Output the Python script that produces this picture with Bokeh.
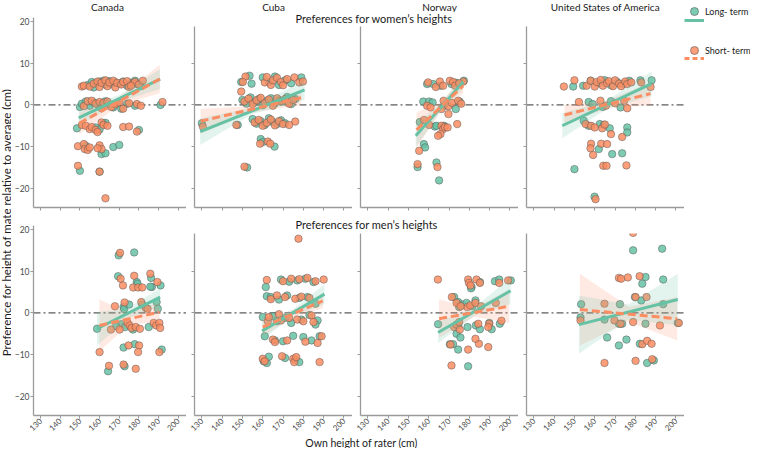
import math
from bokeh.plotting import figure
from bokeh.models import Range1d, Span, Label, Legend, LegendItem, FixedTicker
from bokeh.layouts import row, column
from bokeh.embed import file_html
from bokeh.resources import INLINE
from bokeh.core.properties import value

# ---------------- texts ----------------
COUNTRIES = ["Canada", "Cuba", "Norway", "United States of America"]
ROW_TITLES = ["Preferences for women\u2019s heights", "Preferences for men\u2019s heights"]
Y_LABEL = "Preference for height of mate relative to average (cm)"
X_LABEL = "Own height of rater (cm)"
SERIES = ["Long- term", "Short- term"]
X_TICKS = [130, 140, 150, 160, 170, 180, 190, 200]
Y_TICKS = [-20, -10, 0, 10, 20]

# ---------------- data (own height, preference) ----------------
CA_W_LONG_X = [154, 156, 158, 160, 162, 163, 165, 166, 168, 170, 172, 174, 176, 178, 179, 181, 157,
               150, 151, 153, 155, 157, 159, 161, 163, 165, 167, 169, 171, 174, 178, 191,
               148.5, 158, 160, 162, 163, 180, 153, 161, 163, 167, 170, 150, 160]
CA_W_LONG_Y = [4.8, 5.5, 5.2, 5.6, 5.8, 4.9, 5.7, 5.0, 5.4, 5.1, 5.6, 4.6, 5.3, 5.8, 5.0, 4.5, 4.2,
               -0.5, 0.3, 0.8, -0.2, 0.6, 0.2, -0.4, 0.9, 0.1, -0.6, 0.4, -0.9, 0.3, -0.2, 0.0,
               -5.6, -5.4, -5.9, -4.5, -4.3, -6.0, -9.8, -11.8, -11.6, -10.1, -9.6, -15.8, -16.0]
CA_W_SHORT_X = [151, 152, 155, 157, 159, 160, 161, 163, 164, 165, 167, 168, 169, 171, 172, 174, 175, 177, 178, 180, 182, 176,
                152, 154, 156, 158, 160, 161, 162, 164, 166, 168, 170, 172, 175, 179, 181, 192,
                151, 153, 155, 156, 158, 159, 161, 162, 164, 172, 175, 179,
                149, 152, 152.5, 154, 155, 160, 161, 159, 149, 160, 163]
CA_W_SHORT_Y = [4.4, 4.6, 4.4, 5.1, 5.6, 4.3, 5.3, 5.9, 4.5, 5.4, 5.8, 4.2, 5.3, 4.9, 5.5, 5.7, 4.3, 5.1, 5.5, 4.9, 5.8, 4.6,
                -0.3, 0.9, 1.0, 0.3, 0.7, -0.8, 0.5, 0.8, -0.5, 0.2, 0.6, -0.9, 0.4, 0.2, -0.2, 0.7,
                -4.8, -5.0, -5.8, -5.3, -6.0, -6.5, -4.2, -4.8, -5.0, -5.3, -5.2, -6.4,
                -9.9, -9.4, -10.6, -10.8, -10.2, -9.7, -10.6, -10.4, -14.6, -16.0, -22.4]

CU_W_LONG_X = [130, 147.7, 149.4, 153.5, 154.5, 160, 163, 166, 168, 171, 174, 179,
               150, 152, 154, 156, 158, 160, 162, 164, 166, 168, 170, 172, 174, 176,
               155, 157, 159, 161, 163, 165, 167, 169, 171, 159, 160, 165.8, 152.3]
CU_W_LONG_Y = [-4.4, -4.8, 5.5, 7.0, 5.1, 6.6, 5.5, 6.8, 4.8, 5.9, 5.2, 6.6,
               1.2, 0.3, 1.8, 0.6, 1.4, -0.1, 1.0, 1.6, 0.4, 1.2, 0.8, 1.9, 0.2, 1.4,
               -3.4, -4.5, -3.9, -4.8, -3.2, -4.1, -4.6, -3.7, -4.4, -8.2, -8.9, -10.0, -15.0]
CU_W_SHORT_X = [130.5, 147, 149.4, 151.5, 150.2,
                161, 162, 164, 165, 167, 169, 170, 172, 175.6, 178, 179.8,
                151, 153, 155, 157, 159, 161, 163, 165, 167, 169, 171, 173, 175,
                156, 158, 160, 162, 164, 166, 168, 170, 176, 173, 158.7, 162.5, 163.7, 151]
CU_W_SHORT_Y = [-5.2, -4.8, 3.2, 6.8, 5.5,
                5.4, 6.7, 4.8, 5.9, 6.5, 5.5, 4.7, 6.2, 6.6, 5.4, 5.6,
                0.8, 1.5, 0.2, 1.1, 1.7, 0.4, 1.3, -0.2, 1.6, 0.9, 1.4, 0.3, 1.2,
                -4.2, -3.6, -5.0, -4.3, -3.5, -4.9, -3.9, -4.6, -4.0, -4.8, -9.3, -8.8, -9.3, -14.8]

NO_W_LONG_X = [159.2, 162.2, 165.8, 171.2, 173.5, 177.3, 157.3, 160.2, 161.9, 167.6, 173.3, 175.2,
               155.6, 163.0, 167.5, 163.8, 157.6, 158.2, 154.5, 163.8, 165.1]
NO_W_LONG_Y = [5.0, 5.0, 4.6, 5.0, 5.3, 5.8, 0.8, 0.8, 0.6, -0.2, -1.0, 0.8,
               -4.1, -5.2, -5.0, -5.0, -9.4, -10.2, -14.9, -13.8, -18.1]
NO_W_SHORT_X = [159.7, 163.5, 165.5, 167.1, 170.4, 172.0, 173.0, 177.0, 175.0,
                159.2, 160.9, 166.3, 167.3, 169.7, 171.4, 174.5, 176.0,
                157.7, 160.2, 166.3, 167.1, 168.0, 169.3, 165.8, 164.6, 169.7, 174.0, 155.3, 154.5, 164.3]
NO_W_SHORT_Y = [5.4, 4.3, 5.6, 4.6, 5.8, 5.5, 4.6, 5.6, 5.2,
                -0.2, -0.6, -1.0, 1.0, -0.3, 0.5, 1.0, 0.3,
                -3.6, -4.8, -5.0, -5.8, -5.3, -5.4, -7.0, -7.4, -2.2, -4.6, -11.0, -14.2, -14.9]

US_W_LONG_X = [149.4, 154.3, 158, 162, 165, 168, 171, 174, 177, 182.5, 188,
               157.0, 159, 164, 172.7, 168,
               154.6, 157.0, 162.5, 167.4, 176.0, 176.0, 164.5, 162.0, 168.6, 173.5, 150.0, 159.9]
US_W_LONG_Y = [4.4, 4.6, 5.8, 5.2, 5.9, 4.7, 5.5, 5.0, 5.8, 5.9, 5.9,
               0.7, 0.2, -0.5, -0.6, 0.9,
               -3.8, -5.0, -4.6, -5.6, -5.4, -6.6, -4.8, -10.6, -11.8, -11.6, -15.4, -22.0]
US_W_SHORT_X = [144.8, 150.0, 156, 158, 160, 161, 163, 164, 166, 167, 169, 170, 172, 173, 175, 176, 178, 182.9, 187.5,
                152.2, 162.8, 165.5, 170, 176.0, 174.5,
                155.5, 158.2, 160, 163.7, 165, 168.0, 173.5,
                158.2, 157.9, 163.2, 159.2, 166.1, 164.2, 165.8, 175.6, 160.4]
US_W_SHORT_Y = [4.4, 5.9, 4.6, 5.8, 4.4, 5.5, 6.0, 4.6, 5.2, 5.7, 4.5, 5.9, 5.1, 4.5, 5.6, 5.0, 5.4, 5.4, 4.3,
                0.7, 1.0, -0.2, 0.4, -0.8, 1.0,
                -4.6, -5.0, -5.4, -5.6, -4.7, -7.0, -7.7,
                -9.3, -10.4, -9.3, -12.0, -9.4, -14.6, -14.6, -14.5, -22.6]

CA_M_LONG_X = [158.7, 169.7, 177.6, 169.4, 178.9, 179.3, 186.6, 191.0, 186.2, 185.8,
               172.2, 172.5, 175.0, 181.7, 189.0, 189.6, 171.0, 168.4, 173.0, 177.0, 185.0,
               172.2, 177.9, 191.6, 164.3, 172.7]
CA_M_LONG_Y = [-3.8, 13.8, 14.5, 8.8, 7.4, 7.0, 6.2, 6.6, 8.4, 6.3,
               1.4, 0.9, 2.0, 2.0, 2.6, 1.0, -2.7, -3.2, -3.4, -4.0, -3.4,
               -8.3, -7.5, -8.8, -14.0, -12.8]
CA_M_SHORT_X = [160.0, 170.4, 170.7, 171.9, 167.8, 172.7, 177.6, 177.1, 179.6, 181.7, 185.8, 189.4,
                181.2, 183.5, 184.4,
                174.3, 175.3, 176.3, 178.4, 180.5, 187.5, 188.8, 190.4, 190.8, 170.2, 165.8,
                174.7, 180.1, 179.6, 190.4, 164.8, 172.2, 178.4]
CA_M_SHORT_Y = [-9.4, 14.4, 8.2, 6.6, 1.6, 2.5, 8.9, 6.1, 6.1, 6.1, 9.4, 7.4,
                2.6, 1.2, 1.0,
                -2.4, -3.0, -3.6, -3.4, -3.8, -2.4, -3.0, -2.4, -3.6, -4.0, -4.0,
                -7.8, -7.8, -9.4, -9.4, -12.7, -12.4, -13.4]

CU_M_LONG_X = [160, 161, 162, 160.5, 161.5, 162, 164, 165, 166, 167, 168, 169, 170, 171, 172,
               173, 174, 175, 176, 177, 178, 179, 180, 181, 182, 183, 184, 185, 186, 187,
               188, 163, 171, 178, 186]
CU_M_LONG_Y = [-1.0, -5.6, -12.0, -11.6, 6.2, 4.0, 3.8, -0.8, -6.6, -2.0, 3.2, 8.0, -6.8, -1.2, 4.2,
               7.5, -2.4, -5.5, -11.2, 7.8, 3.6, -1.6, -5.8, 8.2, 3.8, -0.5, -6.6, 7.4, 2.2, -1.8,
               -5.6, -10.5, -10.8, -11.8, -2.8]
CU_M_SHORT_X = [160, 161, 162, 162.5, 163, 164, 165, 166, 167, 168, 169, 170, 171, 172, 173,
                174, 175, 175.5, 176, 177, 177.6, 178, 179, 180, 181, 182, 183, 184, 185, 186,
                187, 188, 189, 190, 176.5, 169.5]
CU_M_SHORT_Y = [-11.0, -11.6, 7.9, -2.0, -1.0, 3.3, -6.4, -7.0, 4.2, -0.3, -1.8, 7.6, 3.8, -6.6, -1.2,
                8.2, -11.0, -11.8, 3.4, -1.6, 17.8, 8.1, 3.9, -2.0, -6.9, 8.4, 3.6, -0.6, -2.2, 7.6,
                -7.2, -11.8, -5.6, 8.0, -10.6, -10.4]

NO_M_LONG_X = [164.6, 172.5, 174.5, 175.0, 176.5, 178.6, 181.5, 181.1, 180.8, 185.2,
               183.0, 173.7, 174.5, 175.6, 179.1, 183.2, 185.2, 189.8, 191.0, 195.0,
               192.6, 194.7, 200.4, 170.4, 172.0, 174.5, 179.4]
NO_M_LONG_Y = [-2.7, 3.8, 2.6, 1.4, 2.0, 2.4, 1.6, 6.2, 5.9, 7.4,
               3.0, -5.0, -3.0, -5.9, -3.4, -3.0, -3.9, -2.4, -3.9, -2.6,
               7.6, 8.0, 7.8, -7.5, -7.5, -8.8, -12.8]
NO_M_SHORT_X = [164.5, 171.4, 172.5, 173.7, 175.0, 175.3, 170.7, 171.2, 179.4, 179.8,
                180.6, 183.5, 185.2, 179.0, 180.5, 183.0, 185.8, 184.4, 184.7, 189.3,
                179.4, 183.0, 189.8, 189.3, 193.0, 194.7, 195.8, 199.1, 173.7, 175.7]
NO_M_SHORT_Y = [8.0, 3.8, -3.4, -2.8, -2.2, -4.0, -7.6, -12.6, 8.0, 7.2,
                6.6, 8.0, 7.2, 1.4, 1.8, 2.4, 1.6, -2.6, -7.4, -8.2,
                -8.8, -6.2, -2.6, -3.4, 2.4, 7.2, -1.9, 7.8, 2.4, 1.6]

US_M_LONG_X = [153.3, 164.8, 166.1, 171.9, 171.9, 172.4, 173.5, 175.6, 178.9, 179.8, 182.9,
               183.4, 185.0, 185.0, 182.2, 185.8, 189.1, 193.2, 193.7, 193.7, 200.9, 153.0]
US_M_LONG_Y = [2.1, -1.6, -5.9, -7.8, -2.6, 2.1, -2.6, -6.4, 15.0, 3.8, 3.0,
               7.0, 8.6, -2.6, -7.4, -12.0, -11.4, 15.4, 8.0, 2.1, -2.4, -1.1]
US_M_SHORT_X = [153.0, 164.8, 164.8, 169.7, 171.9, 173.0, 176.3, 178.9, 178.9, 180.1,
                180.1, 182.1, 183.4, 185.5, 185.8, 188.0, 188.3, 192.1, 201.4, 172.7]
US_M_SHORT_Y = [-1.8, -12.0, 2.2, -1.8, 8.4, 8.2, 8.5, 19.2, -2.2, 3.8,
                -11.5, 8.8, -7.5, 3.8, -6.7, -7.4, -11.1, -3.0, -2.4, -2.6]

# Fitted lines per panel (order: CA-W, CU-W, NO-W, US-W, CA-M, CU-M, NO-M, US-M)
LONG_FIT_X0 = [149.4, 129.2, 153.6, 144.0, 158.7, 159.7, 164.6, 152.2]
LONG_FIT_X1 = [190.8, 180.6, 177.0, 188.0, 190.8, 190.4, 200.3, 200.9]
LONG_FIT_Y0 = [-3.1, -6.4, -7.4, -5.0, -3.8, -4.3, -4.7, -2.8]
LONG_FIT_Y1 = [6.2, 3.6, 5.5, 5.1, 3.8, 4.5, 5.3, 3.2]
LONG_CI_START = [2.0, 3.2, 2.8, 3.0, 4.0, 2.2, 2.6, 7.0]
LONG_CI_MID = [0.8, 0.8, 1.0, 1.0, 1.2, 0.8, 1.0, 1.8]
LONG_CI_END = [2.4, 2.4, 1.6, 3.0, 2.2, 2.4, 3.2, 6.2]

SHORT_FIT_X0 = [149.7, 129.4, 154.0, 145.1, 159.9, 160.0, 165.1, 152.7]
SHORT_FIT_X1 = [190.6, 178.9, 177.0, 187.5, 190.4, 189.6, 199.6, 200.6]
SHORT_FIT_Y0 = [-4.4, -3.9, -6.0, -2.4, -3.0, -3.4, -1.4, 0.8]
SHORT_FIT_Y1 = [6.2, 1.7, 4.6, 2.7, 0.2, 2.9, 1.6, -1.4]
SHORT_CI_START = [2.6, 3.0, 4.2, 2.4, 6.2, 2.2, 4.6, 8.6]
SHORT_CI_MID = [1.0, 0.8, 1.2, 0.9, 1.4, 0.8, 1.0, 1.8]
SHORT_CI_END = [3.4, 1.7, 1.8, 2.8, 2.4, 1.8, 4.0, 5.2]

LONG_X = [CA_W_LONG_X, CU_W_LONG_X, NO_W_LONG_X, US_W_LONG_X, CA_M_LONG_X, CU_M_LONG_X, NO_M_LONG_X, US_M_LONG_X]
LONG_Y = [CA_W_LONG_Y, CU_W_LONG_Y, NO_W_LONG_Y, US_W_LONG_Y, CA_M_LONG_Y, CU_M_LONG_Y, NO_M_LONG_Y, US_M_LONG_Y]
SHORT_X = [CA_W_SHORT_X, CU_W_SHORT_X, NO_W_SHORT_X, US_W_SHORT_X, CA_M_SHORT_X, CU_M_SHORT_X, NO_M_SHORT_X, US_M_SHORT_X]
SHORT_Y = [CA_W_SHORT_Y, CU_W_SHORT_Y, NO_W_SHORT_Y, US_W_SHORT_Y, CA_M_SHORT_Y, CU_M_SHORT_Y, NO_M_SHORT_Y, US_M_SHORT_Y]

# ---------------- style / layout ----------------
GREEN = "#66C2A5"
ORANGE = "#FC8D62"
AXIS_GREY = "#9a9a9a"
TEXT_DARK = "#1a1a1a"
TICK_TEXT = "#4d4d4d"
FONT = "Lato"
NAN = float("nan")

X_START, X_END = 126.4, 204.2
Y_START = -24.6
Y_PER_PX = 45.56 / 190.0
FRAME_W = 158
COL1_LEFT = 17
COL_LEFT = 8
HEADER_H = 12
XLABEL_H = 12
YLABEL_W = 11
LEGEND_W = 66
TOP_T, TOP_B = 5, 7
BOT_T, BOT_B = 11, 21
TOP_OTHER_FRAME = 181
BOT_OTHER_FRAME = 182
STRIP_W = 3 * (COL_LEFT + FRAME_W)
MAIN_W = COL1_LEFT + FRAME_W + STRIP_W
TOP_H = TOP_T + 190 + TOP_B
BOT_H = BOT_T + 190 + BOT_B
TOTAL_H = HEADER_H + TOP_H + BOT_H + XLABEL_H


def blank_fig(w, h):
    f = figure(width=w, height=h, x_range=Range1d(0, 1), y_range=Range1d(0, 1),
               output_backend="svg", toolbar_location=None, title=None,
               x_axis_location=None, y_axis_location=None, min_border=0)
    f.grid.visible = False
    f.outline_line_color = None
    return f


def style_axis(ax, show_labels, rotated=False):
    ax.axis_line_color = AXIS_GREY
    ax.axis_line_width = 1.3
    ax.major_tick_line_color = AXIS_GREY
    ax.major_tick_line_width = 1
    ax.major_tick_in = 0
    ax.major_tick_out = 3
    ax.minor_tick_line_color = None
    ax.major_label_text_font = FONT
    ax.major_label_text_color = TICK_TEXT
    if show_labels:
        ax.major_label_standoff = 1
        ax.major_label_text_font_size = "8px" if rotated else "8.5px"
        if rotated:
            ax.major_label_orientation = math.pi / 4
    else:
        ax.major_label_standoff = 0
        ax.major_label_text_font_size = "0px"


def make_panel(i, frame_h, top_b, bottom_b, left_b, show_y, show_x):
    p = figure(width=left_b + FRAME_W, height=top_b + frame_h + bottom_b,
               x_range=Range1d(X_START, X_END),
               y_range=Range1d(Y_START, Y_START + frame_h * Y_PER_PX),
               output_backend="svg", toolbar_location=None, title=None,
               min_border=0, min_border_left=left_b, min_border_right=0,
               min_border_top=top_b, min_border_bottom=bottom_b)
    p.grid.visible = False
    p.outline_line_color = None
    p.xaxis.ticker = FixedTicker(ticks=X_TICKS)
    p.yaxis.ticker = FixedTicker(ticks=Y_TICKS)
    style_axis(p.xaxis[0], show_x, rotated=True)
    style_axis(p.yaxis[0], show_y)
    if not show_x:
        p.xaxis.major_label_overrides = {t: "" for t in X_TICKS}
    if not show_y:
        p.yaxis.major_label_overrides = {t: "" for t in Y_TICKS}

    zero = Span(location=0, dimension="width", line_color="#333333",
                line_width=1, line_dash="7 3 2 3", level="underlay")
    p.add_layout(zero)

    p.scatter(LONG_X[i], LONG_Y[i], size=7.5, fill_color=GREEN, fill_alpha=0.85,
              line_color="#555555", line_width=0.6, line_alpha=0.8)
    p.scatter(SHORT_X[i], SHORT_Y[i], size=7.5, fill_color=ORANGE, fill_alpha=0.85,
              line_color="#555555", line_width=0.6, line_alpha=0.8)

    for (x0s, x1s, y0s, y1s, h0s, hms, h1s, col) in [
        (SHORT_FIT_X0, SHORT_FIT_X1, SHORT_FIT_Y0, SHORT_FIT_Y1, SHORT_CI_START, SHORT_CI_MID, SHORT_CI_END, ORANGE),
        (LONG_FIT_X0, LONG_FIT_X1, LONG_FIT_Y0, LONG_FIT_Y1, LONG_CI_START, LONG_CI_MID, LONG_CI_END, GREEN),
    ]:
        x0, x1, y0, y1 = x0s[i], x1s[i], y0s[i], y1s[i]
        xm, ym = (x0 + x1) / 2, (y0 + y1) / 2
        p.varea(x=[x0, xm, x1], y1=[y0 - h0s[i], ym - hms[i], y1 - h1s[i]],
                y2=[y0 + h0s[i], ym + hms[i], y1 + h1s[i]],
                fill_color=col, fill_alpha=0.18)
    p.line([LONG_FIT_X0[i], LONG_FIT_X1[i]], [LONG_FIT_Y0[i], LONG_FIT_Y1[i]],
           line_color=GREEN, line_width=3)
    p.line([SHORT_FIT_X0[i], SHORT_FIT_X1[i]], [SHORT_FIT_Y0[i], SHORT_FIT_Y1[i]],
           line_color=ORANGE, line_width=3, line_dash="8 4")
    return p


# top row
p_top = [make_panel(0, 190, TOP_T, TOP_B, COL1_LEFT, True, False)]
p_top += [make_panel(c, TOP_OTHER_FRAME, 0, TOP_B, COL_LEFT, False, False) for c in range(1, 4)]
# bottom row
p_bot = [make_panel(4, 190, BOT_T, BOT_B, COL1_LEFT, True, True)]
p_bot += [make_panel(4 + c, BOT_OTHER_FRAME, 0, BOT_B, COL_LEFT, False, True) for c in range(1, 4)]


def strip(text, h, y_from_bottom):
    s = blank_fig(STRIP_W, h)
    s.add_layout(Label(x=109, y=y_from_bottom, x_units="screen", y_units="screen", text=text,
                       text_font=FONT, text_font_size="11px", text_color=TEXT_DARK,
                       text_align="left", text_baseline="middle"))
    return s


women_strip = strip(ROW_TITLES[0], TOP_H - TOP_OTHER_FRAME - TOP_B, 8)
men_strip = strip(ROW_TITLES[1], BOT_H - BOT_OTHER_FRAME - BOT_B, 9)

# header with country names
header = blank_fig(MAIN_W, HEADER_H)
for c, name in enumerate(COUNTRIES):
    if c == 0:
        cx = COL1_LEFT + FRAME_W / 2
    else:
        cx = COL1_LEFT + FRAME_W + (c - 1) * (COL_LEFT + FRAME_W) + COL_LEFT + FRAME_W / 2
    header.add_layout(Label(x=cx, y=HEADER_H / 2, x_units="screen", y_units="screen", text=name,
                            text_font=FONT, text_font_size="10px", text_color=TEXT_DARK,
                            text_align="center", text_baseline="middle"))

# x label
xlab = blank_fig(MAIN_W, XLABEL_H)
xlab.add_layout(Label(x=350, y=XLABEL_H / 2, x_units="screen", y_units="screen", text=X_LABEL,
                      text_font=FONT, text_font_size="10.5px", text_color=TEXT_DARK,
                      text_align="center", text_baseline="middle"))

# y label
ylab = blank_fig(YLABEL_W, TOTAL_H)
ylab.add_layout(Label(x=5.5, y=TOTAL_H - 222, x_units="screen", y_units="screen", text=Y_LABEL,
                      angle=math.pi / 2, text_font=FONT, text_font_size="11.5px", text_color=TEXT_DARK,
                      text_align="center", text_baseline="middle"))

# legend figure (legend-only renderers hold a single NaN so nothing is plotted)
leg = blank_fig(LEGEND_W, TOTAL_H)
g_pt = leg.scatter(x=[NAN], y=[NAN], fill_color=GREEN, fill_alpha=0.85, line_color="#555555", line_width=0.6)
o_pt = leg.scatter(x=[NAN], y=[NAN], fill_color=ORANGE, fill_alpha=0.85, line_color="#555555", line_width=0.6)
g_ln = leg.line(x=[NAN, NAN], y=[NAN, NAN], line_color=GREEN, line_width=3)
o_ln = leg.line(x=[NAN, NAN], y=[NAN, NAN], line_color=ORANGE, line_width=3, line_dash="5 3")

PTS_GLYPH_H, PTS_SPACING = 22, 17
LNS_GLYPH_H, LNS_SPACING = 10, 28
pts_h = 2 * PTS_GLYPH_H + PTS_SPACING
lns_h = 2 * LNS_GLYPH_H + LNS_SPACING

# legend location = bottom-left corner of the legend box, measured from the bottom of the figure
leg_pts = Legend(items=[LegendItem(label=value(SERIES[0]), renderers=[g_pt]),
                        LegendItem(label=value(SERIES[1]), renderers=[o_pt])],
                 location=(0, TOTAL_H - pts_h), orientation="vertical",
                 glyph_width=20, glyph_height=PTS_GLYPH_H, label_height=PTS_GLYPH_H, spacing=PTS_SPACING,
                 padding=0, margin=0, label_standoff=1,
                 border_line_color=None, background_fill_alpha=0,
                 label_text_font=FONT, label_text_font_size="9px", label_text_color=TEXT_DARK)
leg_lns = Legend(items=[LegendItem(label=value(""), renderers=[g_ln]),
                        LegendItem(label=value(""), renderers=[o_ln])],
                 location=(0, TOTAL_H - 15 - lns_h), orientation="vertical",
                 glyph_width=20, glyph_height=LNS_GLYPH_H, label_height=LNS_GLYPH_H, label_width=0,
                 spacing=LNS_SPACING, padding=0, margin=0, label_standoff=0,
                 border_line_color=None, background_fill_alpha=0,
                 label_text_font=FONT, label_text_font_size="9px")
leg.add_layout(leg_pts)
leg.add_layout(leg_lns)

top_row = row(p_top[0], column(women_strip, row(*p_top[1:])))
bot_row = row(p_bot[0], column(men_strip, row(*p_bot[1:])))
main = column(header, top_row, bot_row, xlab)
layout = row(ylab, main, leg)

open("out.html", "w").write(file_html(layout, INLINE))
